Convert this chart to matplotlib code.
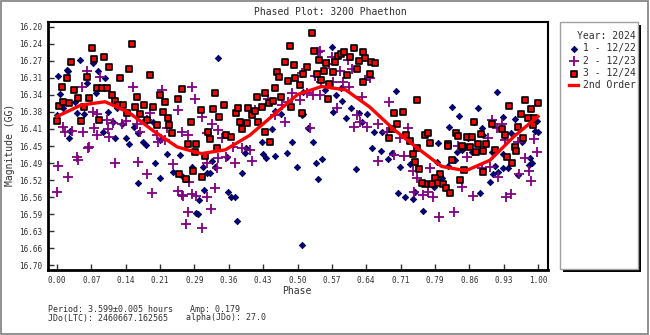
import numpy as np
import matplotlib.pyplot as plt
from matplotlib.patches import Rectangle

# --- Data (phase, reduced magnitude) ---
# Session 1 - 12/22 (navy diamonds)
s1_phase = [0.002, 0.006, 0.012, 0.021, 0.025, 0.027, 0.042, 0.048, 0.056, 0.062,
            0.075, 0.081, 0.096, 0.100, 0.106, 0.116, 0.121, 0.125, 0.135, 0.143,
            0.150, 0.160, 0.168, 0.179, 0.185, 0.200, 0.214, 0.000, 0.037, 0.023,
            0.085, 0.335, 0.204, 0.229, 0.256, 0.281, 0.304, 0.322, 0.353, 0.391,
            0.428, 0.453, 0.478, 0.499, 0.509, 0.532, 0.538, 0.551, 0.168, 0.214,
            0.241, 0.260, 0.312, 0.306, 0.295, 0.289, 0.293, 0.356, 0.362, 0.370,
            0.374, 0.385, 0.509, 0.543, 0.328, 0.318, 0.393, 0.435, 0.622, 0.655,
            0.674, 0.688, 0.696, 0.713, 0.734, 0.709, 0.723, 0.740, 0.761, 0.744,
            0.879, 0.900, 0.911, 0.938, 0.958, 0.981, 0.988, 0.906, 0.917, 0.927,
            0.983, 0.827, 0.813, 0.800, 0.784, 0.863, 0.832, 0.842, 0.904, 0.927,
            0.790, 0.821, 0.836, 0.875, 0.915, 0.927, 0.815, 0.792, 0.867, 0.884,
            0.952, 0.944, 0.998, 0.994, 1.000, 0.854, 0.967, 0.886, 0.572, 0.705,
            0.574, 0.601, 0.593, 0.611, 0.628, 0.645, 0.634, 0.659, 0.676, 0.522,
            0.511, 0.580, 0.590, 0.557, 0.511, 0.426, 0.447, 0.489, 0.466, 0.453]
s1_mag = [16.303, 16.341, 16.370, 16.290, 16.433, 16.418, 16.381, 16.269, 16.383, 16.318,
          16.276, 16.339, 16.421, 16.307, 16.379, 16.400, 16.433, 16.370, 16.404, 16.433,
          16.446, 16.410, 16.423, 16.442, 16.448, 16.400, 16.437, 16.385, 16.358, 16.292,
          16.292, 16.265, 16.486, 16.467, 16.469, 16.494, 16.494, 16.481, 16.473, 16.465,
          16.467, 16.471, 16.465, 16.494, 16.385, 16.442, 16.486, 16.477, 16.528, 16.517,
          16.505, 16.513, 16.507, 16.542, 16.563, 16.591, 16.593, 16.547, 16.557, 16.557,
          16.607, 16.507, 16.658, 16.519, 16.494, 16.507, 16.454, 16.475, 16.498, 16.454,
          16.460, 16.477, 16.465, 16.494, 16.488, 16.549, 16.557, 16.561, 16.586, 16.547,
          16.549, 16.526, 16.492, 16.496, 16.511, 16.490, 16.486, 16.509, 16.505, 16.496,
          16.475, 16.479, 16.492, 16.517, 16.536, 16.463, 16.463, 16.458, 16.463, 16.467,
          16.484, 16.368, 16.387, 16.370, 16.337, 16.389, 16.410, 16.444, 16.400, 16.412,
          16.393, 16.423, 16.397, 16.418, 16.421, 16.433, 16.442, 16.427, 16.242, 16.334,
          16.379, 16.391, 16.355, 16.370, 16.381, 16.383, 16.400, 16.421, 16.421, 16.412,
          16.383, 16.343, 16.328, 16.332, 16.337, 16.442, 16.414, 16.442, 16.383, 16.376]

# Session 2 - 12/23 (purple crosses)
s2_phase = [0.012, 0.017, 0.031, 0.054, 0.067, 0.077, 0.075, 0.062, 0.089, 0.104,
            0.108, 0.116, 0.135, 0.158, 0.166, 0.173, 0.193, 0.208, 0.210, 0.225,
            0.229, 0.052, 0.143, 0.083, 0.042, 0.064, 0.083, 0.106, 0.187, 0.218,
            0.252, 0.281, 0.312, 0.366, 0.401, 0.526, 0.543, 0.509, 0.002, 0.121,
            0.168, 0.241, 0.023, 0.000, 0.044, 0.187, 0.198, 0.252, 0.262, 0.272,
            0.268, 0.281, 0.289, 0.301, 0.312, 0.320, 0.328, 0.333, 0.370, 0.405,
            0.274, 0.335, 0.351, 0.385, 0.312, 0.260, 0.667, 0.701, 0.721, 0.740,
            0.749, 0.742, 0.761, 0.782, 0.794, 0.825, 0.842, 0.865, 0.917, 0.933,
            0.944, 0.960, 0.981, 0.985, 0.884, 0.775, 0.771, 0.973, 0.998, 0.852,
            0.900, 0.904, 0.915, 0.958, 0.992, 0.896, 0.931, 0.834, 0.572, 0.566,
            0.605, 0.588, 0.613, 0.536, 0.549, 0.574, 0.607, 0.640, 0.651, 0.634,
            0.690, 0.582, 0.624, 0.630, 0.645, 0.667, 0.686, 0.617, 0.532, 0.547,
            0.520, 0.505, 0.713, 0.730, 0.287, 0.301, 0.322, 0.335, 0.343, 0.260,
            0.272, 0.412, 0.439, 0.453, 0.468, 0.480, 0.489, 0.474, 0.547, 0.595,
            0.925]
s2_mag = [16.410, 16.421, 16.418, 16.421, 16.452, 16.412, 16.379, 16.292, 16.305, 16.395,
          16.431, 16.402, 16.404, 16.326, 16.404, 16.421, 16.381, 16.427, 16.442, 16.437,
          16.412, 16.326, 16.397, 16.383, 16.473, 16.454, 16.427, 16.414, 16.395, 16.332,
          16.374, 16.326, 16.423, 16.452, 16.458, 16.412, 16.253, 16.297, 16.492, 16.486,
          16.484, 16.488, 16.515, 16.547, 16.479, 16.509, 16.549, 16.544, 16.555, 16.589,
          16.614, 16.551, 16.555, 16.622, 16.557, 16.582, 16.538, 16.496, 16.486, 16.481,
          16.526, 16.475, 16.473, 16.454, 16.486, 16.553, 16.481, 16.469, 16.471, 16.502,
          16.517, 16.547, 16.553, 16.557, 16.599, 16.589, 16.536, 16.555, 16.515, 16.557,
          16.551, 16.509, 16.502, 16.523, 16.496, 16.496, 16.547, 16.475, 16.463, 16.473,
          16.494, 16.395, 16.412, 16.442, 16.435, 16.433, 16.437, 16.450, 16.263, 16.278,
          16.269, 16.292, 16.288, 16.303, 16.316, 16.316, 16.326, 16.311, 16.307, 16.347,
          16.358, 16.370, 16.385, 16.400, 16.410, 16.404, 16.421, 16.410, 16.343, 16.343,
          16.339, 16.353, 16.433, 16.412, 16.351, 16.389, 16.404, 16.416, 16.433, 16.421,
          16.427, 16.374, 16.351, 16.385, 16.364, 16.358, 16.339, 16.400, 16.250, 16.316,
          16.404]

# Session 3 - 12/24 (red squares)
s3_phase = [0.000, 0.004, 0.012, 0.025, 0.010, 0.021, 0.029, 0.035, 0.044, 0.050,
            0.056, 0.062, 0.067, 0.073, 0.077, 0.083, 0.087, 0.094, 0.098, 0.104,
            0.108, 0.114, 0.121, 0.127, 0.131, 0.137, 0.146, 0.150, 0.156, 0.162,
            0.166, 0.173, 0.181, 0.187, 0.193, 0.200, 0.208, 0.214, 0.220, 0.225,
            0.231, 0.233, 0.239, 0.252, 0.260, 0.279, 0.272, 0.289, 0.299, 0.314,
            0.318, 0.324, 0.328, 0.337, 0.347, 0.351, 0.362, 0.372, 0.376, 0.380,
            0.385, 0.395, 0.397, 0.405, 0.412, 0.416, 0.418, 0.426, 0.432, 0.432,
            0.441, 0.449, 0.453, 0.457, 0.462, 0.466, 0.474, 0.480, 0.484, 0.486,
            0.493, 0.495, 0.443, 0.333, 0.254, 0.268, 0.283, 0.301, 0.287, 0.308,
            0.530, 0.534, 0.545, 0.520, 0.511, 0.541, 0.549, 0.555, 0.559, 0.566,
            0.574, 0.563, 0.578, 0.584, 0.590, 0.597, 0.603, 0.609, 0.617, 0.624,
            0.628, 0.636, 0.640, 0.636, 0.651, 0.653, 0.661, 0.505, 0.509, 0.749,
            0.701, 0.719, 0.707, 0.696, 0.690, 0.726, 0.734, 0.765, 0.749, 0.771,
            0.775, 0.813, 0.830, 0.834, 0.852, 0.863, 0.867, 0.875, 0.882, 0.892,
            0.904, 0.925, 0.931, 0.940, 0.952, 0.958, 0.965, 0.969, 0.973, 0.979,
            0.985, 0.990, 1.000, 0.992, 0.844, 0.813, 0.842, 0.859, 0.871, 0.886,
            0.911, 0.936, 0.946, 0.954, 0.821, 0.846, 0.838, 0.886, 0.796, 0.786,
            0.780, 0.792, 0.803, 0.809, 0.817, 0.765, 0.740, 0.744, 0.753, 0.759]
s3_mag = [16.397, 16.366, 16.358, 16.360, 16.326, 16.307, 16.274, 16.332, 16.349, 16.397,
          16.368, 16.305, 16.349, 16.244, 16.267, 16.328, 16.395, 16.328, 16.263, 16.328,
          16.284, 16.343, 16.355, 16.364, 16.307, 16.364, 16.381, 16.288, 16.236, 16.368,
          16.347, 16.383, 16.364, 16.395, 16.301, 16.368, 16.406, 16.343, 16.379, 16.358,
          16.391, 16.406, 16.423, 16.351, 16.330, 16.400, 16.446, 16.446, 16.374, 16.421,
          16.435, 16.372, 16.339, 16.389, 16.364, 16.427, 16.431, 16.381, 16.370, 16.400,
          16.414, 16.402, 16.370, 16.385, 16.376, 16.347, 16.400, 16.368, 16.339, 16.421,
          16.360, 16.355, 16.328, 16.295, 16.305, 16.347, 16.274, 16.313, 16.240, 16.368,
          16.280, 16.307, 16.442, 16.454, 16.509, 16.519, 16.502, 16.515, 16.463, 16.471,
          16.213, 16.250, 16.269, 16.284, 16.299, 16.299, 16.311, 16.292, 16.276, 16.320,
          16.295, 16.351, 16.274, 16.261, 16.257, 16.253, 16.301, 16.263, 16.244, 16.288,
          16.271, 16.253, 16.265, 16.316, 16.299, 16.274, 16.276, 16.322, 16.381, 16.353,
          16.381, 16.379, 16.404, 16.414, 16.433, 16.427, 16.440, 16.427, 16.454, 16.423,
          16.444, 16.446, 16.423, 16.429, 16.431, 16.431, 16.400, 16.446, 16.425, 16.446,
          16.404, 16.414, 16.427, 16.366, 16.452, 16.410, 16.383, 16.433, 16.353, 16.391,
          16.372, 16.406, 16.360, 16.391, 16.452, 16.450, 16.450, 16.452, 16.463, 16.461,
          16.458, 16.473, 16.486, 16.461, 16.479, 16.500, 16.521, 16.505, 16.509, 16.517,
          16.530, 16.528, 16.530, 16.538, 16.549, 16.530, 16.467, 16.484, 16.498, 16.528]

# 2nd order Fourier fit, sampled from the reference curve
fit_phase = [0.00, 0.05, 0.10, 0.15, 0.20, 0.25, 0.30, 0.35, 0.40, 0.45, 0.50,
             0.55, 0.60, 0.65, 0.70, 0.75, 0.80, 0.85, 0.90, 0.95, 1.00]
fit_mag = [16.388, 16.364, 16.357, 16.380, 16.418, 16.452, 16.466, 16.458, 16.428, 16.385, 16.342,
           16.325, 16.332, 16.368, 16.415, 16.455, 16.493, 16.502, 16.480, 16.430, 16.388]

x_tick_labels = ['0.00', '0.07', '0.14', '0.21', '0.29', '0.36', '0.43', '0.50',
                 '0.57', '0.64', '0.71', '0.79', '0.86', '0.93', '1.00']
y_tick_labels = ['16.20', '16.24', '16.27', '16.31', '16.34', '16.38', '16.41', '16.45',
                 '16.49', '16.52', '16.56', '16.59', '16.63', '16.66', '16.70']

MONO = 'DejaVu Sans Mono'
TXT = '#303030'

fig = plt.figure(figsize=(6.5, 3.35), dpi=100)
fig.patch.set_facecolor('white')
fig.patches.append(Rectangle((0.001, 0.002), 0.996, 0.995, transform=fig.transFigure,
                             fill=False, edgecolor='#7f7f7f', linewidth=1.2))

ax = fig.add_axes([48 / 650, 1 - 270 / 335, 500 / 650, 248 / 335])
ax.scatter(s1_phase, s1_mag, marker='D', s=11, color='#000080', edgecolor='#000040',
           linewidth=0.5, zorder=3, label='1 - 12/22')
ax.scatter(s2_phase, s2_mag, marker='+', s=42, color='#800080', linewidth=1.3,
           zorder=3, label='2 - 12/23')
ax.scatter(s3_phase, s3_mag, marker='s', s=19, color='#ff0000', edgecolor='black',
           linewidth=1.2, zorder=4, label='3 - 12/24')
ax.plot(fit_phase, fit_mag, color='#ff0000', linewidth=2.4, zorder=5, label='2nd Order')

ax.set_xlim(-9 / 481, 1 + 10 / 481)
ax.set_ylim(16.70 + 5 * 0.0021, 16.20 - 5 * 0.0021)
ax.set_xticks(np.linspace(0, 1, 15))
ax.set_xticklabels(x_tick_labels)
ax.set_yticks(np.linspace(16.20, 16.70, 15))
ax.set_yticklabels(y_tick_labels)
ax.tick_params(direction='in', length=4, width=1, color='#303030', labelsize=5.5,
               labelcolor=TXT, pad=4)
for lab in ax.get_xticklabels() + ax.get_yticklabels():
    lab.set_family(MONO)
for side in ['left', 'bottom']:
    ax.spines[side].set_linewidth(2)
for side in ['top', 'right']:
    ax.spines[side].set_linewidth(1.5)
ax.set_xlabel('Phase', family=MONO, fontsize=7, color=TXT, va='center')
ax.xaxis.set_label_coords((297 - 48) / 500, -(291 - 270) / 248)
ax.set_ylabel('Magnitude (GG)', family=MONO, fontsize=7, color=TXT, va='center')
ax.yaxis.set_label_coords(-(48 - 10) / 500, (270 - 145) / 248)

fig.text(330 / 650, 1 - 12 / 335, 'Phased Plot: 3200 Phaethon', family=MONO, fontsize=7,
         color=TXT, ha='center', va='center')

# Legend panel with drop shadow
lx, ly, lw, lh = 560 / 650, 1 - 269 / 335, 78 / 650, 247 / 335
fig.patches.append(Rectangle((lx + 3 / 650, ly - 3 / 335), lw, lh, transform=fig.transFigure,
                             facecolor='black', edgecolor='none', zorder=1))
fig.patches.append(Rectangle((lx, ly), lw, lh, transform=fig.transFigure,
                             facecolor='white', edgecolor='#a0a0a0', linewidth=1, zorder=2))
handles, labels = ax.get_legend_handles_labels()
leg = fig.legend(handles, labels, title='Year: 2024', loc='upper left',
                 bbox_to_anchor=(lx + 1 / 650, ly + lh - 1 / 335), frameon=False,
                 prop={'family': MONO, 'size': 7}, handlelength=1.0, handletextpad=0.5,
                 labelspacing=0.25, borderpad=0.3, markerscale=1.0)
leg.get_title().set_family(MONO)
leg.get_title().set_fontsize(7)
leg.get_title().set_color(TXT)
leg._legend_box.align = 'right'
for t in leg.get_texts():
    t.set_color(TXT)

# Footer info
fig.text(48 / 650, 1 - 309 / 335, 'Period: 3.599±0.005 hours', family=MONO, fontsize=6,
         color=TXT, va='center')
fig.text(190 / 650, 1 - 309 / 335, 'Amp: 0.179', family=MONO, fontsize=6,
         color=TXT, va='center')
fig.text(48 / 650, 1 - 318 / 335, 'JDo(LTC): 2460667.162565', family=MONO, fontsize=6,
         color=TXT, va='center')
fig.text(186 / 650, 1 - 318 / 335, 'alpha(JDo): 27.0', family=MONO, fontsize=6,
         color=TXT, va='center')

fig.savefig('out.png', dpi=100)
